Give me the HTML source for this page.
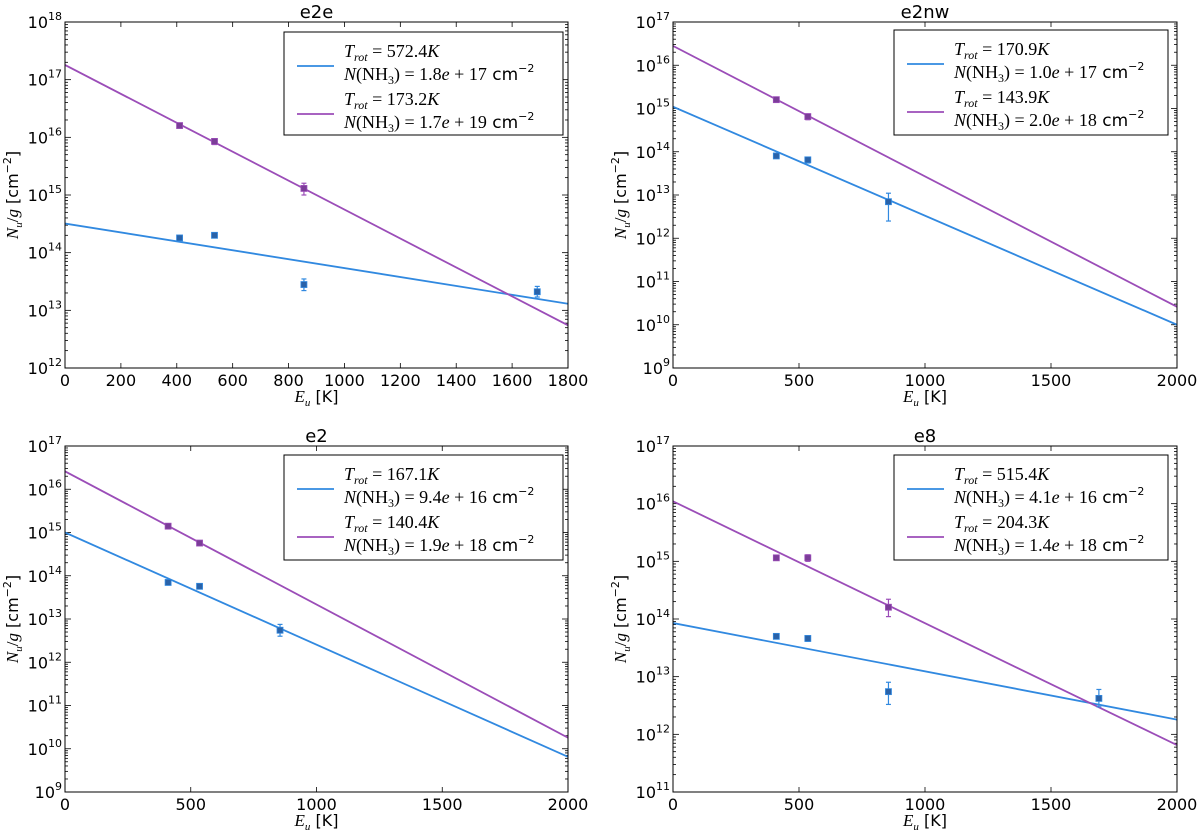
<!DOCTYPE html>
<html><head><meta charset="utf-8">
<style>
html,body{margin:0;padding:0;background:#fff;}
svg{display:block;font-family:"DejaVu Sans","Liberation Sans",sans-serif;}
.math{font-family:"Liberation Serif","DejaVu Serif",serif;}
</style></head>
<body>
<svg id="fig" width="1200" height="832" viewBox="0 0 1200 832"></svg>
<script>
// ---------- data ----------
const panelTitles = ["e2e", "e2nw", "e2", "e8"];
const xMaxes = [1800, 2000, 2000, 2000];
const xTickValues = [[0,200,400,600,800,1000,1200,1400,1600,1800],[0,500,1000,1500,2000],[0,500,1000,1500,2000],[0,500,1000,1500,2000]];
const yDecadeMin = [12, 9, 9, 11];
const yDecadeMax = [18, 17, 17, 17];
const legendT = [["572.4","173.2"],["170.9","143.9"],["167.1","140.4"],["515.4","204.3"]];
const legendN = [["1.8e+17","1.7e+19"],["1.0e+17","2.0e+18"],["9.4e+16","1.9e+18"],["4.1e+16","1.4e+18"]];
// fit lines: value at E=0 and at E=xMax
const blueLineStart = [3.2e14, 1.1e15, 1.0e15, 8.5e13];
const blueLineEnd = [1.3e13, 1.0e10, 6.5e9, 1.8e12];
const purpleLineStart = [1.8e17, 2.8e16, 2.6e16, 1.1e16];
const purpleLineEnd = [5.5e12, 2.6e10, 1.8e10, 6.5e11];
// points: [E, value, lowErr, highErr]
const bluePoints = [
  [[410,1.8e14,1.7e14,1.9e14],[535,2.0e14,1.85e14,2.15e14],[855,2.8e13,2.2e13,3.5e13],[1690,2.1e13,1.7e13,2.6e13]],
  [[410,8.0e13,7.2e13,8.8e13],[535,6.5e13,5.5e13,7.5e13],[855,7.0e12,2.5e12,1.1e13]],
  [[410,7.0e13,6.5e13,7.5e13],[535,5.7e13,5.2e13,6.2e13],[855,5.5e12,4.0e12,7.5e12]],
  [[410,5.0e13,4.6e13,5.4e13],[535,4.6e13,4.1e13,5.1e13],[855,5.5e12,3.3e12,8.0e12],[1690,4.2e12,3.0e12,6.0e12]]
];
const purplePoints = [
  [[410,1.6e16,1.5e16,1.7e16],[535,8.5e15,7.5e15,9.5e15],[855,1.3e15,1.0e15,1.6e15]],
  [[410,1.6e15,1.5e15,1.7e15],[535,6.5e14,5.5e14,7.5e14]],
  [[410,1.4e15,1.3e15,1.5e15],[535,5.7e14,5.4e14,6.0e14]],
  [[410,1.15e15,1.08e15,1.22e15],[535,1.15e15,1.0e15,1.3e15],[855,1.6e14,1.1e14,2.2e14]]
];

// ---------- layout ----------
const NS = "http://www.w3.org/2000/svg";
const svg = document.getElementById("fig");
const boxes = [{l:65,r:568,t:22,b:368},{l:673,r:1177,t:22,b:368},{l:65,r:568,t:446,b:792},{l:673,r:1177,t:446,b:792}];
const legBoxes = [{x:284,y:32,w:279,h:103},{x:894,y:30,w:274,h:105},{x:284,y:455,w:279,h:105},{x:894,y:455,w:274,h:105}];
const BLUE = "#3189e0", PURPLE = "#9b4db8";
const BLUE_M = "#2a62a8", PURPLE_M = "#7b3d98";

function mk(tag, attrs, parent){
  const e = document.createElementNS(NS, tag);
  for (const k in attrs) e.setAttribute(k, attrs[k]);
  (parent||svg).appendChild(e);
  return e;
}

for (let p=0; p<4; p++){
  const B = boxes[p];
  const g = mk("g", {});
  
  
  const xs = v => B.l + (v/xMaxes[p])*(B.r-B.l);
  const ys = v => B.b - (Math.log10(v)-yDecadeMin[p])/(yDecadeMax[p]-yDecadeMin[p])*(B.b-B.t);

  const clipId = "clip"+p;
  const cp = mk("clipPath",{id:clipId}, g);
  mk("rect",{x:B.l,y:B.t,width:B.r-B.l,height:B.b-B.t}, cp);

  const tg = mk("g",{stroke:"#000","stroke-width":0.8}, g);
  
  
  xTickValues[p].forEach(v=>{
    const x = xs(v);
    mk("line",{x1:x,x2:x,y1:B.b,y2:B.b-5}, tg);
    mk("line",{x1:x,x2:x,y1:B.t,y2:B.t+5}, tg);
    const t = mk("text",{x:x,y:B.b+18,"text-anchor":"middle","font-size":16,fill:"#000",stroke:"none"}, g);
    
    
    t.textContent = v;
  });
  for (let d=yDecadeMin[p]; d<=yDecadeMax[p]; d++){
    const y = ys(Math.pow(10,d));
    mk("line",{x1:B.l,x2:B.l+6,y1:y,y2:y}, tg);
    mk("line",{x1:B.r,x2:B.r-6,y1:y,y2:y}, tg);
    if (d<yDecadeMax[p]){
      for (let m=2;m<=9;m++){
        const ym = ys(m*Math.pow(10,d));
        mk("line",{x1:B.l,x2:B.l+3,y1:ym,y2:ym}, tg);
        mk("line",{x1:B.r,x2:B.r-3,y1:ym,y2:ym}, tg);
      }
    }
    const t = mk("text",{x:B.l-3,y:y+6,"text-anchor":"end","font-size":16,fill:"#000",stroke:"none"}, g);
    
    
    t.innerHTML = '10<tspan dy="-8" font-size="11">'+d+'</tspan>';
  }

  const lg = mk("g",{"clip-path":"url(#"+clipId+")"}, g);
  const bl = mk("line",{x1:xs(0),y1:ys(blueLineStart[p]),x2:xs(xMaxes[p]),y2:ys(blueLineEnd[p]),stroke:BLUE,"stroke-width":1.8}, lg);
  
  
  const pl = mk("line",{x1:xs(0),y1:ys(purpleLineStart[p]),x2:xs(xMaxes[p]),y2:ys(purpleLineEnd[p]),stroke:PURPLE,"stroke-width":1.8}, lg);
  
  

  function drawPts(arr, lc, mc, nm){
    arr.forEach(pt=>{
      const x = xs(pt[0]), y = ys(pt[1]), y1 = ys(pt[2]), y2 = ys(pt[3]);
      const pg = mk("g",{}, g);
      
      
      mk("line",{x1:x,x2:x,y1:y1,y2:y2,stroke:lc,"stroke-width":1.2}, pg);
      mk("line",{x1:x-2.5,x2:x+2.5,y1:y1,y2:y1,stroke:lc,"stroke-width":1.2}, pg);
      mk("line",{x1:x-2.5,x2:x+2.5,y1:y2,y2:y2,stroke:lc,"stroke-width":1.2}, pg);
      mk("rect",{x:x-3,y:y-3,width:6,height:6,fill:mc,stroke:lc,"stroke-width":0.8}, pg);
    });
  }
  drawPts(bluePoints[p], BLUE, BLUE_M, "blue-data-point");
  drawPts(purplePoints[p], PURPLE, PURPLE_M, "purple-data-point");

  const fr = mk("rect",{x:B.l,y:B.t,width:B.r-B.l,height:B.b-B.t,fill:"none",stroke:"#000","stroke-width":1}, g);
  
  

  const tt = mk("text",{x:(B.l+B.r)/2,y:B.t-4,"text-anchor":"middle","font-size":18,fill:"#000"}, g);
  
  
  tt.textContent = panelTitles[p];

  const xl = mk("text",{x:(B.l+B.r)/2,y:B.b+34,"text-anchor":"middle","font-size":16,fill:"#000"}, g);
  
  
  xl.innerHTML = '<tspan class="math" font-style="italic" font-size="17">E</tspan><tspan class="math" font-style="italic" font-size="11" dy="4">u</tspan><tspan dy="-4"> [K]</tspan>';
  const yl = mk("text",{x:0,y:0,"text-anchor":"middle","font-size":16,fill:"#000",transform:"translate("+(B.l-47)+","+((B.t+B.b)/2)+") rotate(-90)"}, g);
  
  
  yl.innerHTML = '<tspan class="math" font-style="italic" font-size="17">N</tspan><tspan class="math" font-style="italic" font-size="11" dy="4">u</tspan><tspan class="math" dy="-4" font-size="17">/</tspan><tspan class="math" font-style="italic" font-size="17">g</tspan> [cm<tspan font-size="11" dy="-7">−2</tspan><tspan dy="7">]</tspan>';

  const L = legBoxes[p];
  const leg = mk("g",{}, g);
  
  
  mk("rect",{x:L.x,y:L.y,width:L.w,height:L.h,fill:"#fff",stroke:"#000","stroke-width":1}, leg);
  [[BLUE,0],[PURPLE,1]].forEach(([c,i])=>{
    const y0 = L.y + 25 + i*48;
    const ent = mk("g",{}, leg);
    
    
    mk("line",{x1:L.x+13,x2:L.x+50,y1:y0+9,y2:y0+9,stroke:c,"stroke-width":1.8}, ent);
    const t1 = mk("text",{x:L.x+60,y:y0,"font-size":18,fill:"#000",class:"math"}, ent);
    t1.innerHTML = '<tspan font-style="italic">T</tspan><tspan font-style="italic" font-size="12" dy="4">rot</tspan><tspan dy="-4"> = '+legendT[p][i]+'</tspan><tspan font-style="italic">K</tspan>';
    const t2 = mk("text",{x:L.x+60,y:y0+23,"font-size":18,fill:"#000",class:"math"}, ent);
    t2.innerHTML = '<tspan font-style="italic">N</tspan>(NH<tspan font-size="12" dy="4">3</tspan><tspan dy="-4">) = '+legendN[p][i].replace('e','</tspan><tspan font-style="italic">e</tspan><tspan>').replace('+',' + ')+'</tspan><tspan font-family="DejaVu Sans, sans-serif" font-size="17"> cm</tspan><tspan font-family="DejaVu Sans, sans-serif" font-size="11" dy="-8">−2</tspan>';
  });
}
</script>
</body></html>
